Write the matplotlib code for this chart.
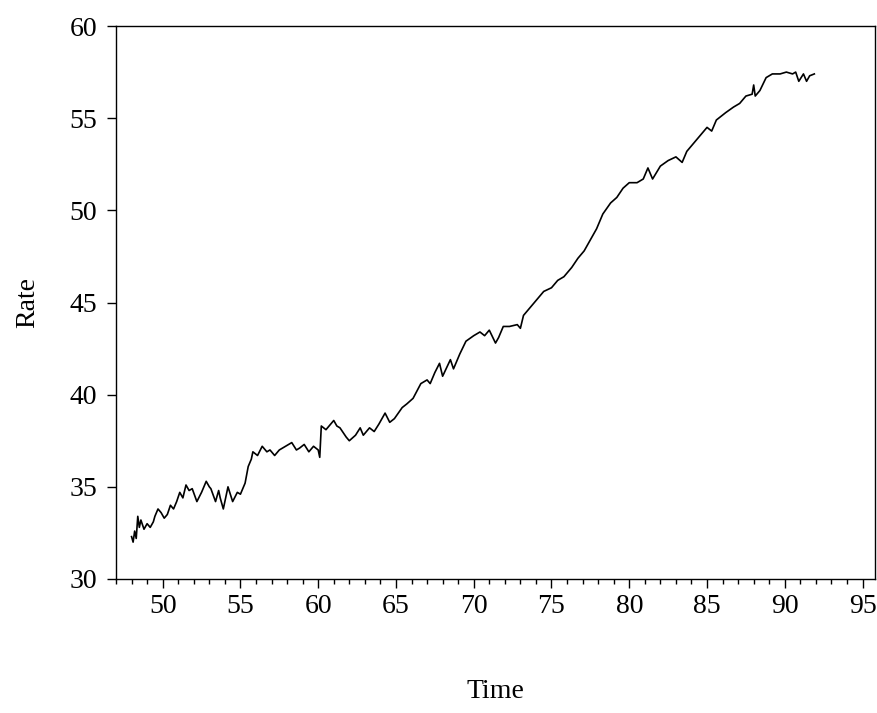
import numpy as np
from matplotlib import pyplot
from matplotlib.ticker import MultipleLocator

# time (year - 1900) and rate
time = [48.0, 48.1, 48.2, 48.3, 48.4, 48.5, 48.6, 48.8, 49.0, 49.2, 49.4, 49.5,
        49.7, 49.9, 50.1, 50.3, 50.5, 50.7, 50.9, 51.1, 51.3, 51.5, 51.7, 51.9,
        52.2, 52.5, 52.8, 53.0, 53.1, 53.4, 53.6, 53.7, 53.9, 54.2, 54.5, 54.8,
        55.0, 55.3, 55.5, 55.7, 55.8, 56.1, 56.4, 56.7, 56.9, 57.2, 57.5, 57.9,
        58.3, 58.6, 58.8, 59.1, 59.4, 59.7, 60.0, 60.1, 60.2, 60.5, 61.0, 61.2,
        61.4, 61.8, 62.0, 62.4, 62.7, 62.9, 63.3, 63.6, 63.9, 64.3, 64.6, 64.9,
        65.4, 65.7, 66.1, 66.6, 67.0, 67.2, 67.5, 67.8, 68.0, 68.5, 68.7, 69.1,
        69.5, 70.0, 70.4, 70.7, 71.0, 71.4, 71.6, 71.9, 72.3, 72.8, 73.0, 73.2,
        73.7, 74.1, 74.5, 75.0, 75.4, 75.8, 76.3, 76.7, 77.1, 77.5, 77.9, 78.3,
        78.8, 79.2, 79.6, 80.0, 80.5, 80.9, 81.2, 81.5, 82.0, 82.5, 83.0, 83.4,
        83.7, 84.1, 84.5, 85.0, 85.3, 85.6, 86.2, 86.7, 87.1, 87.5, 87.9, 88.0,
        88.1, 88.4, 88.8, 89.2, 89.7, 90.1, 90.5, 90.7, 90.9, 91.2, 91.4, 91.6,
        91.9]
rate = [32.3, 32.0, 32.6, 32.2, 33.4, 32.8, 33.2, 32.7, 33.0, 32.8, 33.1, 33.4,
        33.8, 33.6, 33.3, 33.5, 34.0, 33.8, 34.2, 34.7, 34.4, 35.1, 34.8, 34.9,
        34.2, 34.7, 35.3, 35.0, 34.9, 34.2, 34.8, 34.4, 33.8, 35.0, 34.2, 34.7,
        34.6, 35.2, 36.1, 36.5, 36.9, 36.7, 37.2, 36.9, 37.0, 36.7, 37.0, 37.2,
        37.4, 37.0, 37.1, 37.3, 36.9, 37.2, 37.0, 36.6, 38.3, 38.1, 38.6, 38.3,
        38.2, 37.7, 37.5, 37.8, 38.2, 37.8, 38.2, 38.0, 38.4, 39.0, 38.5, 38.7,
        39.3, 39.5, 39.8, 40.6, 40.8, 40.6, 41.2, 41.7, 41.0, 41.9, 41.4, 42.2,
        42.9, 43.2, 43.4, 43.2, 43.5, 42.8, 43.1, 43.7, 43.7, 43.8, 43.6, 44.3,
        44.8, 45.2, 45.6, 45.8, 46.2, 46.4, 46.9, 47.4, 47.8, 48.4, 49.0, 49.8,
        50.4, 50.7, 51.2, 51.5, 51.5, 51.7, 52.3, 51.7, 52.4, 52.7, 52.9, 52.6,
        53.2, 53.6, 54.0, 54.5, 54.3, 54.9, 55.3, 55.6, 55.8, 56.2, 56.3, 56.8,
        56.2, 56.5, 57.2, 57.4, 57.4, 57.5, 57.4, 57.5, 57.0, 57.4, 57.0, 57.3,
        57.4]

pyplot.rcParams['font.family'] = ['Liberation Serif', 'DejaVu Serif']

fig = pyplot.figure(figsize=(8.77, 7.13), dpi=100)
ax = fig.add_axes([116 / 877, 1 - 579 / 713, 759 / 877, 553 / 713])

ax.plot(time, rate, color='black', linewidth=1.2)

ax.set_xlim(47.0, 95.8)
ax.set_ylim(30, 60)
ax.xaxis.set_major_locator(MultipleLocator(5))
ax.xaxis.set_minor_locator(MultipleLocator(1))
ax.yaxis.set_major_locator(MultipleLocator(5))

ax.tick_params(axis='both', which='major', direction='out', length=6.5,
               width=1.0, labelsize=20)
ax.tick_params(axis='x', which='major', pad=4)
ax.tick_params(axis='y', which='major', pad=7)
ax.tick_params(axis='x', which='minor', direction='out', length=3.6, width=1.0)
for side in ax.spines.values():
    side.set_linewidth(1.0)

ax.set_xlabel('Time', fontsize=20)
ax.xaxis.set_label_coords(0.5, -0.18)
ax.set_ylabel('Rate', fontsize=20)
ax.yaxis.set_label_coords(-0.10, 0.5)

fig.savefig('out.png', dpi=100)
